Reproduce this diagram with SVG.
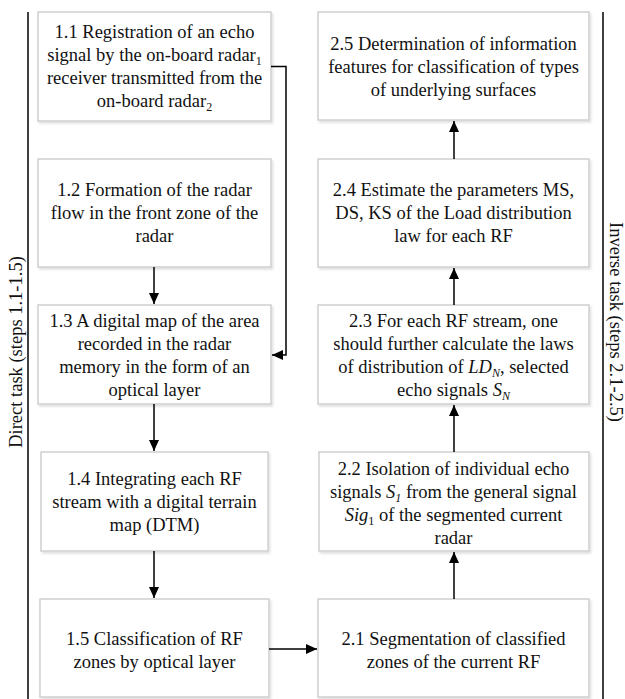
<svg xmlns="http://www.w3.org/2000/svg" width="625" height="699" viewBox="0 0 625 699">
<style>
.box{fill:#fff;stroke:#cfcfcf;stroke-width:1.5;filter:url(#sh)}
.t{font-family:"Liberation Serif","Times New Roman",serif;font-size:18.5px;fill:#111;text-anchor:middle}
.c{fill:none;stroke:#000;stroke-width:1.5}
.i{font-style:italic}
.s{font-size:12px}
</style>
<defs>
<filter id="sh" x="-5%" y="-5%" width="110%" height="115%">
<feDropShadow dx="1.5" dy="2" stdDeviation="1" flood-color="#000" flood-opacity="0.12"/>
</filter>
<marker id="ah" markerUnits="userSpaceOnUse" markerWidth="12" markerHeight="10" refX="11" refY="5" orient="auto">
<path d="M0,0 L11,5 L0,10 z" fill="#000"/>
</marker>
</defs>
<rect width="625" height="699" fill="#fff"/>

<g id="frame">
<line x1="28" y1="12" x2="28" y2="699" stroke="#000" stroke-width="1.5"/>
<line x1="603" y1="12" x2="603" y2="699" stroke="#000" stroke-width="1.5"/>
<text class="t" transform="translate(22,352) rotate(-90)">Direct task (steps 1.1-1.5)</text>
<text class="t" transform="translate(610,322) rotate(90)">Inverse task (steps 2.1-2.5)</text>
</g>

<g id="n11">
<rect class="box" x="38" y="12" width="233" height="109"/>
<text class="t"><tspan x="154.5" y="37.5">1.1 Registration of an echo</tspan><tspan x="154.5" y="60.5">signal by the on-board radar<tspan class="s" dy="4">1</tspan></tspan><tspan x="154.5" y="83.5">receiver transmitted from the</tspan><tspan x="154.5" y="106.5">on-board radar<tspan class="s" dy="4">2</tspan></tspan></text>
</g>
<g id="n12">
<rect class="box" x="38" y="159" width="233" height="108"/>
<text class="t"><tspan x="154.5" y="196">1.2 Formation of the radar</tspan><tspan x="154.5" y="219">flow in the front zone of the</tspan><tspan x="154.5" y="242">radar</tspan></text>
</g>
<g id="n13">
<rect class="box" x="38" y="305" width="233" height="99"/>
<text class="t"><tspan x="154.5" y="326.5">1.3 A digital map of the area</tspan><tspan x="154.5" y="349.5">recorded in the radar</tspan><tspan x="154.5" y="372.5">memory in the form of an</tspan><tspan x="154.5" y="395.5">optical layer</tspan></text>
</g>
<g id="n14">
<rect class="box" x="41" y="452" width="227" height="99"/>
<text class="t"><tspan x="154.5" y="485">1.4 Integrating each RF</tspan><tspan x="154.5" y="508">stream with a digital terrain</tspan><tspan x="154.5" y="531">map (DTM)</tspan></text>
</g>
<g id="n15">
<rect class="box" x="40" y="599" width="229" height="98"/>
<text class="t"><tspan x="154.5" y="644.5">1.5 Classification of RF</tspan><tspan x="154.5" y="667.5">zones by optical layer</tspan></text>
</g>

<g id="n25">
<rect class="box" x="318" y="12" width="271" height="108"/>
<text class="t"><tspan x="453.5" y="49.5">2.5 Determination of information</tspan><tspan x="453.5" y="72.5">features for classification of types</tspan><tspan x="453.5" y="95.5">of underlying surfaces</tspan></text>
</g>
<g id="n24">
<rect class="box" x="318" y="159" width="271" height="108"/>
<text class="t"><tspan x="453.5" y="196">2.4 Estimate the parameters MS,</tspan><tspan x="453.5" y="219">DS, KS of the Load distribution</tspan><tspan x="453.5" y="242">law for each RF</tspan></text>
</g>
<g id="n23">
<rect class="box" x="318" y="305" width="271" height="99"/>
<text class="t"><tspan x="453.5" y="326.5">2.3 For each RF stream, one</tspan><tspan x="453.5" y="349.5">should further calculate the laws</tspan><tspan x="453.5" y="372.5">of distribution of <tspan class="i">LD</tspan><tspan class="s i" dy="4">N</tspan><tspan dy="-4">, selected</tspan></tspan><tspan x="453.5" y="395.5">echo signals <tspan class="i">S</tspan><tspan class="s i" dy="4">N</tspan></tspan></text>
</g>
<g id="n22">
<rect class="box" x="319" y="452" width="270" height="99"/>
<text class="t"><tspan x="453.5" y="475">2.2 Isolation of individual echo</tspan><tspan x="453.5" y="498">signals <tspan class="i">S</tspan><tspan class="s i" dy="4">1</tspan><tspan dy="-4"> from the general signal</tspan></tspan><tspan x="453.5" y="521"><tspan class="i">Sig</tspan><tspan class="s" dy="4">1</tspan><tspan dy="-4"> of the segmented current</tspan></tspan><tspan x="453.5" y="544">radar</tspan></text>
</g>
<g id="n21">
<rect class="box" x="318" y="599" width="271" height="98"/>
<text class="t"><tspan x="453.5" y="644.5">2.1 Segmentation of classified</tspan><tspan x="453.5" y="667.5">zones of the current RF</tspan></text>
</g>

<g id="connectors">
<path class="c" d="M271,66.5 H286 V355 H272" marker-end="url(#ah)"/>
<path class="c" d="M154,267 V304" marker-end="url(#ah)"/>
<path class="c" d="M154,404 V451" marker-end="url(#ah)"/>
<path class="c" d="M154,551 V598" marker-end="url(#ah)"/>
<path class="c" d="M269,649 H317" marker-end="url(#ah)"/>
<path class="c" d="M454,599 V552" marker-end="url(#ah)"/>
<path class="c" d="M454,452 V405" marker-end="url(#ah)"/>
<path class="c" d="M454,305 V268" marker-end="url(#ah)"/>
<path class="c" d="M454,159 V121" marker-end="url(#ah)"/>
</g>
</svg>
